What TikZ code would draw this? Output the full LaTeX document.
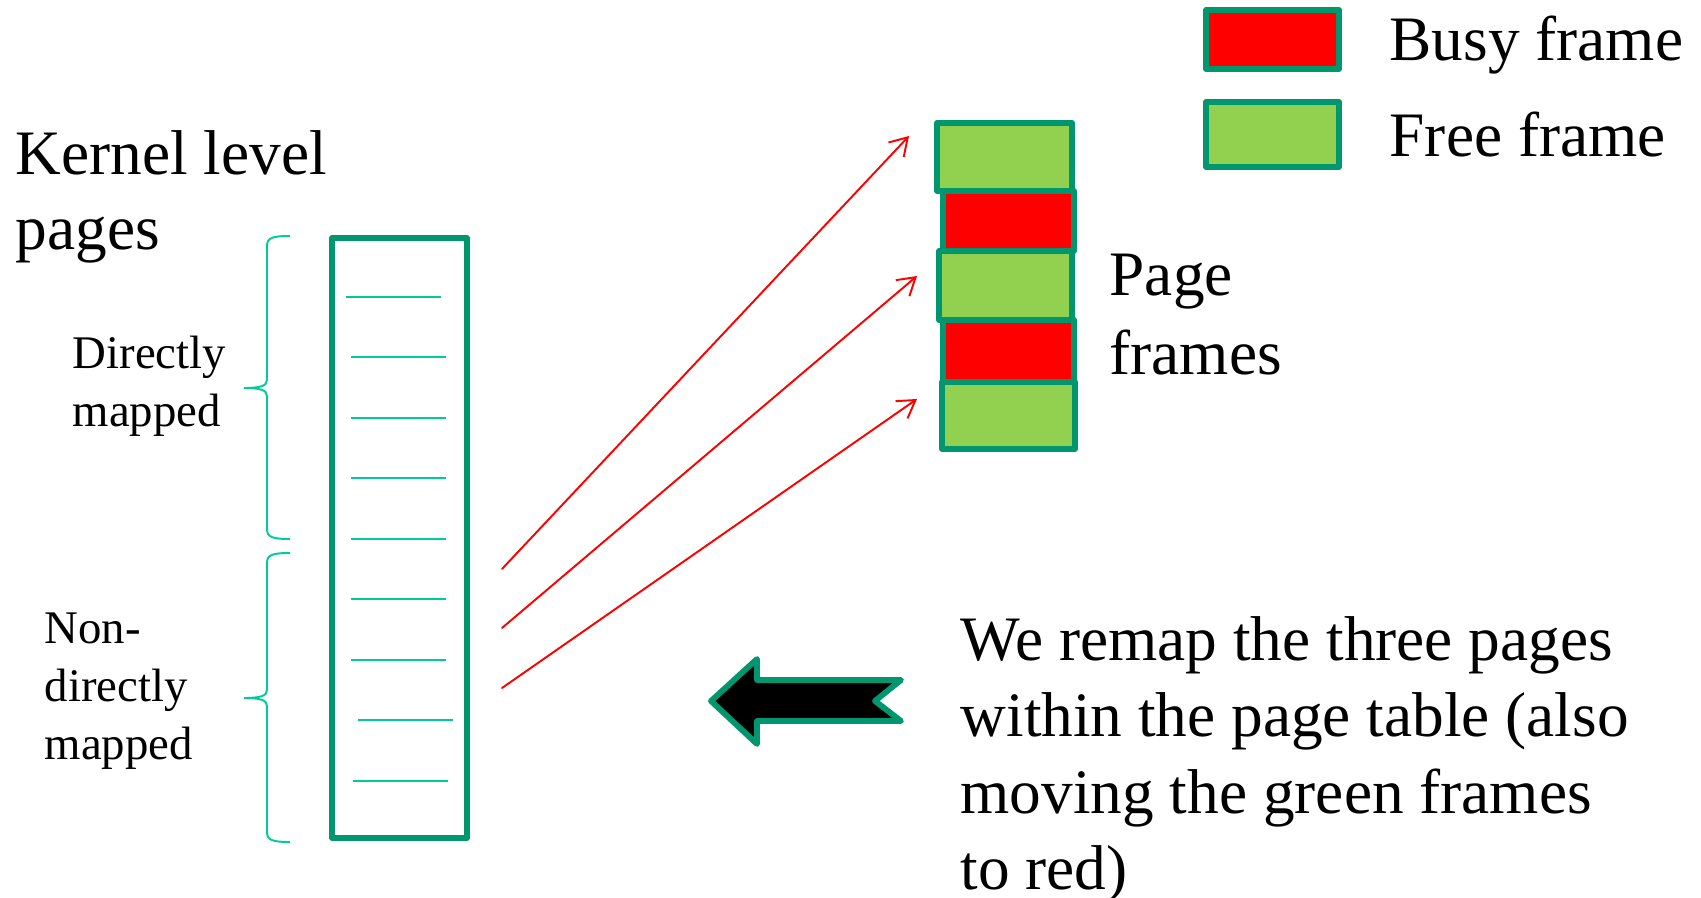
\documentclass[tikz,border=0pt]{standalone}
\usepackage{fontspec}
\setmainfont{Liberation Serif}
\usepackage{tkz-euclide}
\usetikzlibrary{arrows.meta}

\definecolor{framegreen}{RGB}{0,150,110}
\definecolor{rowgreen}{RGB}{0,204,153}
\definecolor{freegreen}{HTML}{92D050}
\definecolor{busyred}{HTML}{FF0000}

\tikzset{
  pageframe/.style={draw=framegreen, line width=1.65pt, line join=round},
  busy/.style={pageframe, fill=busyred},
  free/.style={pageframe, fill=freegreen},
  pagerow/.style={draw=rowgreen, line width=0.5pt},
  rangebrace/.style={draw=rowgreen, line width=0.55pt},
  remap/.style={draw=red, line width=0.55pt,
    -{Straight Barb[length=1.7mm,width=2.1mm]}},
  maintext/.style={font=\fontsize{18}{21.3}\selectfont, align=left, inner sep=0pt},
  sidetext/.style={font=\fontsize{13.3}{16.5}\selectfont, align=left, inner sep=0pt}
}

\begin{document}
\begin{tikzpicture}[x=0.01cm, y=-0.01cm]
    \useasboundingbox (0,0) rectangle (1701,898);
    % page table
    \tkzDefPoints{332/238/T1,467/238/T2,467/838/T3,332/838/T4}
    \tkzDrawPolygon[pageframe](T1,T2,T3,T4)
    \foreach \a/\b/\y in {346/441/297,351/446/357,351/446/418,351/446/478,
        351/446/539,351/446/599,351/446/660,358/453/720,353/448/781}
        \draw[pagerow] (\a,\y) -- (\b,\y);
    % braces: top / tip / bottom
    \foreach \t/\m/\b in {236/388/539,553/698/842}
        \draw[rangebrace] (290,\t) .. controls (272,\t) and (267,\t+2) .. (267,\t+10)
            -- (267,\m-8) .. controls (267,\m-2) and (260,\m) .. (244,\m)
            .. controls (260,\m) and (267,\m+2) .. (267,\m+8)
            -- (267,\b-10) .. controls (267,\b-2) and (272,\b) .. (290,\b);
    \node[maintext, anchor=north west] (kernel) at (15,130) {Kernel level\\pages};
    \node[sidetext, anchor=north west] (direct) at (72,335) {Directly\\mapped};
    \node[sidetext, anchor=north west] (nondirect) at (44,612) {Non-\\directly\\mapped};
    % page frames
    \draw[free] (937,123) rectangle (1072,191);
    \draw[busy] (943,191) rectangle (1074,251);
    \draw[free] (939,251) rectangle (1072,320);
    \draw[busy] (943,320) rectangle (1074,382);
    \draw[free] (942,382) rectangle (1075,449);
    \node[maintext, anchor=north west, font=\fontsize{18}{22.5}\selectfont] (frames) at (1109,253) {Page\\frames};
    % remapping
    \tkzDefPoints{502/569/S1,909/136/E1,502/628/S2,917/276/E2,502/688/S3,917/399/E3}
    \tkzDrawSegments[remap](S1,E1 S2,E2 S3,E3)
    \tkzDefPoints{711/701/A1,757/659/A2,757/680/A3,901/680/A4,
        875/701/A5,901/721/A6,757/721/A7,757/744/A8}
    \tkzDrawPolygon[pageframe,fill=black](A1,A2,A3,A4,A5,A6,A7,A8)
    \node[maintext, anchor=north west, font=\fontsize{18}{21.7}\selectfont] (note) at (960,616)
        {We remap the three pages\\within the page table (also\\moving the green frames\\to red)};
    % legend
    \draw[busy] (1206,10) rectangle (1339,69);
    \draw[free] (1206,102) rectangle (1339,167);
    \node[maintext, anchor=base west] (busylbl) at (1389,61) {Busy frame};
    \node[maintext, anchor=base west] (freelbl) at (1389,157) {Free frame};
\end{tikzpicture}
\end{document}
